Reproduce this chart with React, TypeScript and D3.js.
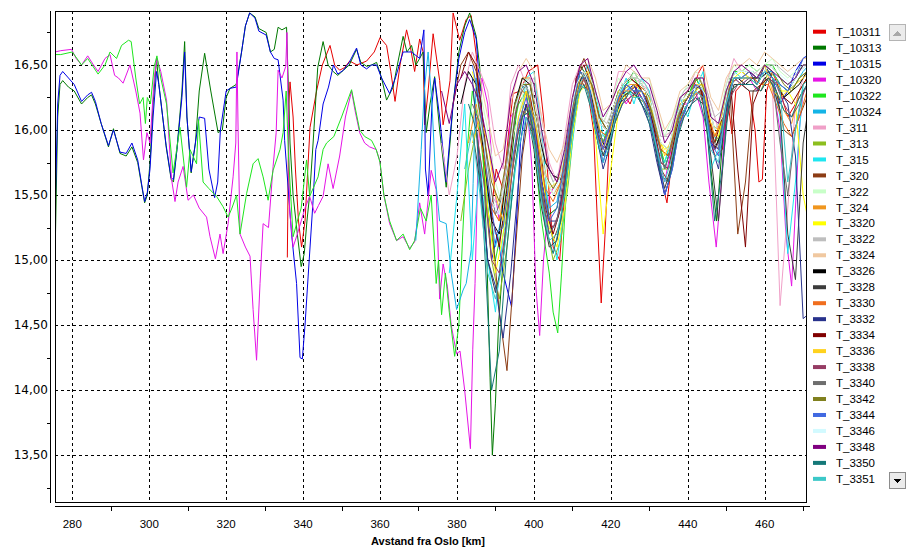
import React from 'react';
import * as d3 from 'd3';

type Pt = [number, number];

const seriesNames = ['T_10311','T_10313','T_10315','T_10320','T_10322','T_10324','T_311','T_313','T_315','T_320','T_322','T_324','T_3320','T_3322','T_3324','T_3326','T_3328','T_3330','T_3332','T_3334','T_3336','T_3338','T_3340','T_3342','T_3344','T_3346','T_3348','T_3350','T_3351'];
const seriesColors = ['#e60000','#007800','#0000e6','#e614e6','#1ee61e','#14b4e6','#f0a0c8','#8cbe1e','#1ee6f0','#8c3c14','#c8ffc8','#f0961e','#ffff00','#bebebe','#f0c8a0','#000000','#3c3c3c','#f06e1e','#28328c','#800000','#ffd21e','#963c64','#6e6e6e','#80801e','#4169e1','#d2faff','#800080','#147878','#3cc8c8'];

const xTicks = [280, 300, 320, 340, 360, 380, 400, 420, 440, 460];
const xMinorTicks = [290, 310, 330, 350, 370, 390, 410, 430, 450, 470];
const yTicks = [13.5, 14.0, 14.5, 15.0, 15.5, 16.0, 16.5];
const yMinorTicks = [13.25, 13.75, 14.25, 14.75, 15.25, 15.75, 16.25, 16.75];

const T_10311: Pt[] = [[335.9,15.02],[336.0,15.3],[336.3,16.2],[336.6,16.37],[337.4,16.1],[338,15.7],[338.8,15.3],[339.6,15.1],[340.5,15.3],[341.8,16.02],[343.5,16.3],[345,16.5],[347,16.65],[348.2,16.5],[349.5,16.46],[350.8,16.48],[352.1,16.53],[354,16.5],[356.5,16.53],[358.5,16.6],[360,16.71],[361.7,16.65],[362.8,16.45],[363.9,16.22],[365.2,16.5],[366.9,16.77],[367.7,16.67],[369,16.45],[370.3,16.7],[371.2,16.6],[371.6,16.04],[372.5,16.3],[373.8,16.74],[375.5,16.38],[376.4,16.04],[377.3,16.2],[378.2,16.38],[379,16.9],[380.7,16.69],[382.4,16.85],[383.7,16.88],[385,16.58],[386,16.1],[387.5,15.6],[389,15.4],[390.2,15.7],[392,15.54],[393.5,16.0],[394.6,16.28],[396.5,16.3],[398.5,16.45],[401,16.5],[402.5,16.1],[404,15.5],[405,15.1],[406.7,15.0],[408,15.5],[409.5,16.1],[411,16.3],[412.7,16.36],[414,16.3],[415.5,16.0],[416.5,15.3],[417.5,14.67],[418.5,15.2],[419.7,16.0],[421,16.15],[423,16.3],[425,16.2],[427,16.35],[429,16.3],[431,16.0],[432.5,15.7],[434.6,15.44],[436,15.8],[437.5,16.1],[439,16.2],[441,16.3],[443,16.45],[444,16.5],[445.5,16.0],[447,15.8],[449,15.85],[450.5,16.2],[451.5,15.97],[452.5,16.3],[454,16.35],[456,16.3],[457.5,16.0],[458.5,15.6],[459.4,15.62],[460.5,16.3],[462,16.45],[464,16.3],[466,16.1],[468,16.2],[470,16.3],[471.5,16.35]];

const T_10313: Pt[] = [[275.5,15.0],[276.2,16.1],[276.8,16.35],[277.5,16.38],[279,16.33],[280.5,16.3],[282.4,16.2],[284,16.25],[285,16.27],[286,16.2],[287.5,16.05],[289.4,15.87],[290.7,16.01],[292.4,15.82],[294,15.8],[295.5,15.87],[297,15.75],[298.1,15.56],[298.8,15.44],[299.5,15.5],[300.2,15.75],[301,16.2],[301.9,16.55],[302.5,16.35],[303.5,16.1],[304.4,15.87],[305.7,15.62],[306.3,15.6],[307.2,15.85],[308.5,16.3],[309.2,16.68],[309.8,16.1],[310.9,15.67],[312,15.9],[313,16.3],[314.4,16.59],[316,16.3],[317.9,15.98],[319,16.0],[320,16.25],[321,16.32],[322.6,16.35],[324,16.6],[325,16.8],[326.1,16.9],[327.5,16.87],[328.5,16.78],[330.4,16.75],[331.5,16.6],[332.5,16.62],[333.5,16.79],[334.5,16.77],[335.7,16.79],[336.1,16.4],[336.6,15.9],[337.4,15.5],[338.5,15.2],[339.5,14.95],[340.3,15.05],[341,15.3],[341.7,15.5],[342.6,15.9],[343.8,16.48],[345.2,16.68],[346.5,16.5],[347.8,16.45],[349,16.42],[350.5,16.46],[352,16.5],[353.9,16.62],[355,16.52],[356.5,16.49],[357.8,16.5],[359.1,16.52],[360.4,16.4],[361.7,16.23],[363.4,16.33],[364.5,16.5],[366,16.72],[367,16.6],[368.2,16.65],[369.3,16.5],[370.3,16.55],[371.2,16.6],[372,15.98],[373,16.2],[374.2,16.41],[375.5,16.0],[377.2,15.56],[378.2,15.9],[379,16.2],[380.5,16.6],[382,16.8],[383.3,16.9],[385,16.72],[385.9,16.49],[386.8,15.9],[387.8,15.0],[388.6,14.1],[389.2,13.5],[390,13.9],[390.8,14.5],[392,15.0],[393.5,15.6],[395,16.0],[396,16.3],[398,16.35],[400,16.1],[402,15.6],[404,15.35],[406,15.4],[408,15.75],[410,16.2],[412,16.5],[414,16.4],[416,16.1],[418,15.9],[420,16.1],[422,16.3],[424,16.35],[426,16.45],[428,16.35],[430,16.25],[432,16.0],[434,15.7],[436,15.9],[438,16.2],[440,16.25],[442,16.4],[444,16.3],[446,15.7],[447.5,15.3],[449,15.9],[450,16.25],[452,16.45],[454,16.45],[456,16.4],[458,16.4],[460,16.5],[462,16.45],[464,16.35],[466,16.3],[468,16.4],[470,16.5],[471.5,16.5]];

const T_10315: Pt[] = [[275.5,15.33],[276.2,16.2],[276.8,16.42],[277.5,16.45],[279,16.4],[280.5,16.35],[282.4,16.22],[284,16.27],[285,16.29],[286,16.22],[287.5,16.05],[289.4,15.88],[290.7,16.0],[292.4,15.83],[294,15.82],[295.5,15.9],[297,15.77],[298.1,15.57],[298.8,15.45],[299.5,15.52],[300.2,15.7],[301,16.1],[301.9,16.45],[302.5,16.35],[303.5,16.1],[304.4,15.88],[305.7,15.63],[306.3,15.62],[307.2,15.85],[308.5,16.25],[309.2,16.6],[309.8,16.1],[310.9,15.68],[312,15.9],[313,16.1],[314.4,16.09],[315.5,15.7],[317,15.48],[317.8,15.6],[318.5,16.0],[320,16.3],[321,16.32],[322.6,16.33],[324,16.6],[325,16.8],[326.1,16.9],[327.5,16.86],[328.5,16.76],[330.4,16.73],[331.5,16.6],[332.5,16.55],[333.5,16.54],[334.8,16.23],[335.2,15.92],[336,15.6],[337,15.2],[338.3,14.82],[339.2,14.25],[339.8,14.24],[340.5,14.5],[341.3,14.87],[342.6,15.46],[343.3,15.85],[343.9,15.92],[345.2,16.2],[346.6,16.33],[347.9,16.5],[349,16.43],[350.5,16.46],[352,16.52],[353.9,16.63],[355,16.5],[356.5,16.47],[357.8,16.5],[359.1,16.5],[360.4,16.4],[362.5,16.28],[364,16.4],[366,16.6],[367,16.6],[368.2,16.6],[370.3,16.55],[371.4,16.77],[371.8,15.7],[372.5,15.5],[373.5,16.2],[374.2,16.4],[375.5,16.1],[377.2,15.6],[378.2,15.95],[379,16.2],[380.5,16.55],[382,16.75],[383.3,16.85],[385,16.7],[386,16.3],[387.5,15.6],[389,15.0],[390.5,15.2],[392,14.9],[394.2,14.64],[395.5,15.3],[396.5,15.9],[398,16.2],[400,16.0],[402,15.5],[404,15.2],[406,15.3],[408,15.6],[410,16.1],[412,16.45],[414,16.35],[416,16.0],[418,15.75],[420,16.0],[422,16.25],[424,16.3],[426,16.35],[428,16.25],[430,16.15],[432,15.8],[434,15.5],[435,15.6],[436,15.75],[438,16.1],[440,16.2],[442,16.35],[444,16.3],[446,15.9],[448,15.85],[450,16.25],[452,16.4],[454,16.4],[456,16.45],[458,16.4],[460,16.45],[462,16.4],[464,16.2],[466,16.3],[468,16.45],[470,16.55],[471.5,16.58]];

const T_10320: Pt[] = [[275.5,16.6],[277,16.61],[279.8,16.62],[281,16.55],[282.4,16.5],[284,16.57],[285.5,16.5],[286.7,16.45],[288.5,16.55],[289.8,16.58],[291,16.42],[292,16.4],[293.2,16.36],[295,16.5],[296.5,16.3],[297.6,16.13],[298.5,15.77],[299.4,15.98],[300.2,15.9],[301.3,16.4],[302,16.55],[303,16.45],[304.5,16.23],[305.8,15.62],[306.7,15.45],[307.5,15.6],[308.8,15.72],[310.1,15.46],[311.5,15.5],[313,15.4],[314.9,15.33],[315.8,15.18],[317.2,15.01],[318.4,15.2],[319.2,15.05],[320.5,15.28],[321.8,15.64],[322.5,15.9],[322.8,16.6],[323.1,16.0],[323.6,15.2],[325,15.1],[326.2,15.03],[327,14.62],[327.9,14.23],[328.8,14.82],[329.6,15.28],[331,15.25],[332.2,15.72],[333,15.98],[333.5,16.46],[334.5,16.4],[335.5,16.49],[335.8,16.75],[336.2,16.0],[336.5,15.38],[337.4,15.1],[338.5,15.2],[339.5,15.3],[340.5,15.4],[341.7,15.49],[343,15.36],[344,15.42],[345.2,15.49],[346.5,15.74],[347.8,15.55],[349.5,15.8],[351,16.1],[352.6,16.3],[353.5,16.15],[354.7,15.98],[356,15.9],[357.3,15.87],[359,15.85],[359.9,15.77],[361,15.5],[362.5,15.28],[364.3,15.15],[366,15.18],[367.7,15.09],[369,15.14],[370.3,15.44],[371.6,15.2],[373.3,15.69],[374.6,15.54],[375.5,14.7],[376.4,14.97],[377.5,14.8],[378.5,14.5],[379.9,14.28],[380.8,14.3],[382,14.0],[383.5,13.55],[384.1,14.31],[384.7,14.82],[385.5,15.8],[386.5,16.4],[388,16.2],[389.5,15.6],[391,15.3],[392.5,15.6],[394,16.1],[396,16.2],[398,16.3],[399.5,15.7],[400.5,14.8],[401.5,14.42],[402.5,15.0],[404,15.5],[406,15.6],[408,15.8],[410,16.2],[412,16.4],[414,16.35],[416,16.0],[418,15.85],[420,16.1],[422,16.3],[424,16.2],[426,16.3],[428,16.25],[430,16.1],[432,15.85],[434,15.6],[436,15.9],[438,16.2],[440,16.2],[442,16.3],[444,16.1],[445.5,15.6],[447.4,15.1],[448.5,15.5],[450,16.2],[452,16.4],[454,16.35],[456,16.4],[458,16.3],[460,16.4],[462,16.35],[464,16.0],[465.5,15.2],[467,14.8],[468,15.4],[469,16.0],[470,16.3],[471.5,16.35]];

const T_10322: Pt[] = [[275.5,16.58],[277,16.58],[280,16.6],[282.4,16.5],[284,16.55],[286.7,16.43],[288.5,16.5],[289.8,16.6],[291.5,16.55],[292.8,16.65],[294.6,16.69],[295.3,16.68],[296.5,16.4],[297.5,16.2],[298.4,16.25],[299,16.05],[299.5,16.25],[300.3,16.2],[301.3,16.49],[302,16.57],[303,16.4],[304.5,16.2],[306.2,15.67],[308,16.02],[309.7,15.56],[310.6,15.85],[312.3,15.74],[312.8,16.08],[314,15.6],[315.5,15.55],[317.5,15.49],[319.2,15.41],[320.5,15.33],[321.5,15.4],[322.7,15.5],[323.6,15.2],[325.3,15.51],[327,15.74],[328.3,15.78],[329.6,15.64],[330.9,15.46],[332.2,15.69],[334,15.85],[334.8,15.98],[335.6,16.3],[336.2,15.8],[337.4,15.18],[338.5,15.3],[339.5,15.4],[340.9,15.77],[341.7,15.49],[343.9,15.64],[345.2,15.85],[346.1,15.9],[348,15.95],[350,16.1],[352.6,16.31],[354.7,16.0],[356,15.95],[357.8,15.92],[359,15.85],[360,15.75],[361,15.5],[362.5,15.3],[364.3,15.15],[366,15.2],[367.7,15.08],[369,15.15],[370.5,15.4],[372,15.3],[373.3,15.5],[374.6,14.82],[375.2,15.0],[376,14.58],[377,14.9],[378,14.6],[379.4,14.26],[380.5,14.5],[381.5,15.2],[382.5,15.8],[384,16.3],[386,16.0],[388,15.4],[390,15.0],[392,15.3],[394,15.9],[396,16.2],[398,16.3],[400,15.9],[402,15.3],[404,14.9],[405,14.6],[406.2,14.44],[407.2,14.9],[408.5,15.6],[410,16.1],[412,16.45],[414,16.4],[416,16.1],[418,15.9],[420,16.1],[422,16.3],[424,16.35],[426,16.4],[428,16.3],[430,16.2],[432,15.95],[434,15.75],[436,15.95],[438,16.2],[440,16.25],[442,16.4],[444,16.3],[446,16.0],[448,15.9],[450,16.3],[452,16.45],[454,16.45],[456,16.5],[458,16.45],[460,16.5],[462,16.5],[464,16.4],[466,16.35],[468,16.4],[470,16.5],[471.5,16.5]];

const T_10324: Pt[] = [[369.3,15.15],[370,15.5],[370.7,15.85],[371.5,16.3],[372.5,16.6],[373.5,16.2],[374.5,15.6],[375.5,15.3],[377.2,15.28],[378.5,14.9],[379.9,14.62],[381.6,14.77],[382.4,14.82],[383.7,15.08],[384.2,15.59],[385,16.4],[386,16.2],[388,15.5],[390,15.1],[392,15.4],[394,16.0],[396,16.3],[398,16.35],[400,16.1],[402,15.7],[404,15.4],[406,15.45],[408,15.8],[410,16.2],[412,16.45],[414,16.4],[416,16.1],[418,15.9],[420,16.05],[422,16.25],[424,16.35],[426,16.3],[428,16.3],[430,16.2],[432,15.95],[434,15.7],[436,15.9],[438,16.15],[440,16.25],[442,16.35],[444,16.3],[446,16.0],[448,15.9],[450,16.25],[452,16.4],[454,16.4],[456,16.4],[458,16.35],[460,16.45],[462,16.45],[464,16.35],[466,16.3],[468,16.35],[470,16.45],[471.5,16.5]];

// Later series are read on 2 km grids (even and odd km); each value list ends at the grid's last km.
const evenKm = [372,374,376,378,380,382,384,386,388,390,392,394,396,398,400,402,404,406,408,410,412,414,416,418,420,422,424,426,428,430,432,434,436,438,440,442,444,446,448,450,452,454,456,458,460,462,464,466,468,470,472];
const oddKm = [373,375,377,379,381,383,385,387,389,391,393,395,397,399,401,403,405,407,409,411,413,415,417,419,421,423,425,427,429,431,433,435,437,439,441,443,445,447,449,451,453,455,457,459,461,463,465,467,469,471,473];

const T_311 = [15.9,15.5,15.8,16.35,16.6,16.45,16.3,15.9,15.7,16.35,16.5,16.35,16.4,16.1,15.75,15.6,15.95,16.35,16.5,16.5,16.3,16.05,16.2,16.45,16.45,16.4,16.35,16.3,16.1,15.95,16.0,16.25,16.3,16.45,16.4,16.2,16.0,16.35,16.55,16.45,16.4,16.45,16.5,16.35,14.65,15.4,16.2,16.4,16.45];
const T_313 = [15.3,15.7,16.0,15.6,15.0,14.7,15.1,15.7,16.1,16.2,15.75,15.3,15.0,15.15,15.6,16.2,16.4,16.2,15.9,15.85,16.1,16.25,16.3,16.25,16.2,16.0,15.7,15.7,16.0,16.15,16.25,16.3,16.1,15.9,16.0,16.3,16.35,16.35,16.35,16.3,16.45,16.4,16.25,16.3,16.4,16.45,16.45];
const T_315 = [14.9,15.5,16.2,15.0,15.8,15.0,14.6,15.2,15.4,15.9,16.4,16.45,16.0,15.3,15.0,15.4,15.9,16.35,16.5,16.3,15.95,16.05,16.25,16.4,16.2,16.4,16.3,15.85,15.75,15.95,16.25,16.1,16.3,16.45,15.7,15.85,16.3,16.45,16.4,16.45,16.4,16.5,16.4,16.1,15.05,15.6,16.35,16.4];
const T_320 = [16.2,16.5,16.6,16.45,16.0,15.3,14.6,14.15,15.0,15.8,16.2,16.1,15.5,15.15,15.3,15.9,16.4,16.55,16.4,16.05,16.0,16.2,16.35,16.4,16.35,16.3,16.05,15.7,15.6,15.95,16.15,16.25,16.35,16.2,15.85,16.0,16.3,15.2,15.6,16.3,16.35,16.4,16.3,16.0,15.95,16.1,16.25,16.3];
const T_322 = [16.1,16.3,16.0,15.6,15.4,15.9,16.1,16.4,16.35,16.0,15.7,15.5,15.65,16.0,16.35,16.45,16.3,16.05,16.2,16.4,16.3,16.45,16.35,16.4,16.15,15.95,16.1,16.25,16.35,16.45,16.4,16.1,16.05,16.35,16.5,16.45,16.5,16.45,16.5,16.55,16.45,16.4,16.45,16.5,16.5];
const T_324 = [15.9,16.2,15.9,15.4,15.3,15.65,16.15,16.4,16.4,16.0,15.65,15.5,15.6,15.95,16.3,16.4,16.25,16.0,15.95,16.15,16.3,16.35,16.35,16.25,16.1,15.85,15.8,16.0,16.15,16.25,16.3,16.15,15.95,16.05,16.3,16.35,16.4,16.4,16.35,16.4,16.3,16.15,16.05,16.3,16.4,16.45];
const T_3320 = [16.45,16.2,15.4,14.9,15.2,15.7,16.0,16.3,16.2,15.7,15.25,15.1,15.4,15.95,16.3,16.35,15.95,15.2,15.7,16.15,16.3,16.25,16.3,16.2,15.95,15.85,15.9,16.15,16.25,16.3,16.35,16.0,15.95,16.25,16.4,16.45,16.4,16.35,16.5,16.4,16.3,16.3,16.2,15.5,15.2];
const T_3322 = [16.35,16.0,15.5,15.4,15.75,16.15,16.35,16.4,16.1,15.75,15.6,15.7,16.05,16.35,16.45,16.35,16.1,16.05,16.2,16.35,16.4,16.4,16.35,16.2,15.95,15.95,16.15,16.3,16.35,16.4,16.3,16.1,16.15,16.4,16.45,16.45,16.45,16.4,16.5,16.5,16.45,16.4,16.45,16.5,16.5];
const T_3324 = [16.55,16.4,16.1,15.8,15.85,16.2,16.45,16.55,16.45,16.1,15.85,15.75,15.9,16.25,16.5,16.55,16.4,16.15,16.2,16.35,16.5,16.45,16.4,16.4,16.2,16.0,16.1,16.3,16.35,16.45,16.5,16.25,16.15,16.4,16.5,16.5,16.55,16.5,16.6,16.55,16.5,16.45,16.5,16.55,16.55];
const T_3326 = [16.2,16.45,16.35,15.8,15.3,15.2,15.7,16.2,16.4,16.35,16.0,15.75,15.65,15.62,15.95,16.3,16.45,16.25,15.95,15.85,16.1,16.25,16.3,16.35,16.25,16.05,15.85,15.8,16.05,16.2,16.3,16.35,16.1,15.85,16.0,16.35,16.4,16.35,16.4,16.4,16.45,16.35,16.25,16.3,16.35,16.45,16.45];
const T_3328 = [16.0,15.6,15.0,14.75,15.0,15.6,16.0,16.2,15.85,15.4,15.1,15.15,15.5,16.0,16.35,16.3,16.05,15.8,16.0,16.2,16.35,16.3,16.2,16.1,15.8,15.55,15.75,16.1,16.2,16.25,16.2,15.8,15.3,16.05,16.35,16.35,16.3,16.3,16.4,16.35,16.15,15.2,14.85,15.9,16.3];
const T_3330 = [16.1,15.8,15.4,15.3,15.7,16.15,16.3,16.25,15.9,15.55,15.45,15.6,16.0,16.35,16.45,16.3,16.0,15.95,16.15,16.3,16.3,16.35,16.3,16.1,15.85,15.8,16.05,16.2,16.3,16.35,16.15,15.95,16.1,16.35,16.4,16.4,16.4,16.35,16.35,16.2,16.05,15.95,16.1,16.3,16.35];
const T_3332 = [16.4,15.7,15.0,14.8,14.4,14.9,15.6,16.1,16.0,15.6,15.3,15.3,15.6,16.1,16.4,16.4,16.0,15.7,15.9,16.2,16.25,16.35,16.2,16.05,15.75,15.5,15.7,16.05,16.2,16.35,16.3,15.9,15.7,16.15,16.4,16.4,16.45,16.35,16.5,16.4,16.3,16.2,15.8,14.55,14.6];
const T_3334 = [16.4,16.6,16.5,16.0,15.35,15.1,15.55,16.1,16.35,16.3,15.85,15.4,15.2,15.4,15.9,16.4,16.5,16.35,16.1,16.0,16.2,16.35,16.4,16.35,16.25,16.05,15.75,15.7,16.0,16.2,16.3,16.35,16.15,15.9,16.1,16.4,15.7,15.1,16.2,16.35,16.4,16.35,16.25,16.2,16.3,16.4,16.45];
const T_3336 = [15.9,16.1,15.9,15.5,15.3,15.6,16.1,16.3,16.1,15.8,15.55,15.6,15.8,16.15,16.4,16.45,16.2,15.85,16.0,16.3,16.25,16.35,16.3,16.25,16.0,15.8,15.95,16.2,16.25,16.35,16.35,16.05,16.0,16.3,16.4,16.4,16.45,16.4,16.5,16.3,16.25,16.3,16.35,16.4,16.45];
const T_3338 = [16.0,15.6,15.0,14.9,15.3,15.85,16.15,16.1,15.7,15.35,15.25,15.4,15.85,16.25,16.4,16.2,15.9,15.85,16.05,16.2,16.25,16.3,16.2,16.0,15.75,15.7,15.95,16.1,16.2,16.3,16.1,15.85,15.95,16.25,16.35,16.35,16.35,16.3,16.4,16.35,16.2,16.1,16.2,16.35,16.4];
const T_3340 = [16.2,16.05,15.7,15.35,15.5,15.9,16.25,16.35,16.05,15.55,15.2,15.3,15.7,16.15,16.45,16.35,16.1,15.9,16.05,16.25,16.35,16.3,16.3,16.2,15.95,15.7,15.9,16.15,16.25,16.35,16.3,15.95,15.85,16.25,16.4,16.35,16.4,16.35,16.45,16.4,15.9,15.5,16.0,16.3,16.35];
const T_3342 = [16.3,15.95,15.6,15.45,15.8,16.2,16.35,16.35,16.0,15.65,15.55,15.65,16.0,16.35,16.45,16.35,16.1,16.0,16.2,16.35,16.4,16.4,16.3,16.1,15.9,15.85,16.1,16.25,16.35,16.4,16.25,16.0,16.1,16.4,16.45,16.45,16.45,16.4,16.5,16.45,16.35,16.3,16.4,16.45,16.5];
const T_3344 = [16.5,16.2,15.6,15.2,15.25,15.7,16.05,16.25,16.05,15.6,15.3,15.4,15.75,16.2,16.45,16.4,16.05,15.85,16.05,16.25,16.35,16.3,16.3,16.15,15.85,15.5,15.7,16.05,16.2,16.35,16.3,15.9,15.8,16.2,16.4,16.4,16.45,16.4,16.45,16.4,16.35,16.3,16.4,16.55,16.6];
const T_3346 = [16.25,15.9,15.45,15.35,15.7,16.15,16.35,16.3,16.0,15.65,15.5,15.65,16.05,16.35,16.45,16.3,16.05,16.0,16.2,16.35,16.4,16.4,16.3,16.15,15.9,15.85,16.1,16.25,16.3,16.35,16.25,16.0,16.1,16.4,16.45,16.45,16.45,16.4,16.5,16.45,16.4,16.35,16.45,16.5,16.5];
const T_3348 = [16.3,16.05,16.35,16.45,16.35,16.2,15.9,15.6,15.75,16.25,16.45,16.5,16.35,16.0,15.7,15.6,15.85,16.25,16.5,16.55,16.3,16.1,16.2,16.35,16.45,16.5,16.4,16.35,16.15,15.9,16.0,16.25,16.3,16.4,16.4,16.1,16.05,16.3,16.45,16.5,16.45,16.4,16.5,16.45,16.4,16.35,16.4,16.5,16.5];
const T_3350 = [16.2,16.0,15.2,14.0,14.3,15.1,15.7,16.1,16.15,15.7,15.25,15.05,15.3,15.8,16.25,16.35,16.15,15.85,15.8,16.05,16.2,16.3,16.25,16.15,15.95,15.65,15.6,15.9,16.1,16.2,16.25,16.0,15.3,15.7,16.3,16.35,16.35,16.35,16.3,16.4,16.3,16.15,16.1,16.25,16.35,16.4];
const T_3351 = [15.7,16.0,15.5,14.9,14.7,15.0,15.5,15.85,16.1,15.9,15.45,15.15,15.2,15.5,16.0,16.35,16.3,16.0,15.75,15.95,16.2,16.3,16.25,16.25,16.1,15.85,15.6,15.8,16.1,16.2,16.3,16.25,15.85,15.75,16.2,16.4,16.4,16.4,16.35,16.45,16.4,16.3,15.6,16.0,16.35,16.4];

const mainSeries: Pt[][] = [T_10311,T_10313,T_10315,T_10320,T_10322,T_10324];
const gridSeries: [number[], number[]][] = [
  [T_311, evenKm],[T_313, oddKm],[T_315, evenKm],[T_320, oddKm],[T_322, evenKm],[T_324, oddKm],
  [T_3320, evenKm],[T_3322, oddKm],[T_3324, evenKm],[T_3326, oddKm],[T_3328, evenKm],[T_3330, oddKm],
  [T_3332, evenKm],[T_3334, oddKm],[T_3336, evenKm],[T_3338, oddKm],[T_3340, evenKm],[T_3342, oddKm],
  [T_3344, evenKm],[T_3346, oddKm],[T_3348, evenKm],[T_3350, oddKm],[T_3351, evenKm]
];

function alignToGrid(vals: number[], grid: number[]): Pt[] {
  const off = grid.length - vals.length;
  return vals.map((v, i) => [grid[off + i], v] as Pt);
}

const allSeries: Pt[][] = [...mainSeries, ...gridSeries.map(([v, g]) => alignToGrid(v, g))];

const W = 918, H = 559;
const L = 55, R = 807, T = 11, B = 502;

export default function App() {
  const x = d3.scaleLinear().domain([275.5, 471]).range([L, R]);
  const y = d3.scaleLinear().domain([13.14, 16.915]).range([B, T]);
  const line = d3.line<Pt>().x(d => x(d[0])).y(d => y(d[1]));
  const fmtY = (v: number) => d3.format('.2f')(v).replace('.', ',');
  const legendY0 = 31.7, legendStep = 15.97;
  const px = (v: number) => Math.round(v) + 0.5;

  return (
    <svg width={W} height={H} style={{ position: 'absolute', left: 0, top: 0, background: '#fff' }}>
      <rect x={0} y={0} width={W} height={H} fill="#fff" />
      <defs>
        <clipPath id="plotclip">
          <rect x={L} y={T} width={R - L} height={B - T} />
        </clipPath>
      </defs>
      <g stroke="#000" strokeWidth={1} strokeDasharray="3,3" shapeRendering="crispEdges">
        {xTicks.map(t => (
          <line key={'gx' + t} x1={px(x(t))} x2={px(x(t))} y1={T} y2={B} />
        ))}
        {yTicks.map(t => (
          <line key={'gy' + t} x1={L} x2={R} y1={px(y(t))} y2={px(y(t))} />
        ))}
      </g>
      <g clipPath="url(#plotclip)" fill="none" strokeWidth={1}>
        {allSeries.map((s, i) => (
          <path key={seriesNames[i]} d={line(s) || ''} stroke={seriesColors[i]} strokeLinejoin="round" />
        ))}
      </g>
      <rect x={L + 0.5} y={T + 0.5} width={R - L - 1} height={B - T} fill="none" stroke="#000" strokeWidth={1} shapeRendering="crispEdges" />
      <g shapeRendering="crispEdges" stroke="#000">
        <line x1={50.5} x2={50.5} y1={T} y2={B + 1} />
        {yMinorTicks.map(t => (
          <line key={'ym' + t} x1={47} x2={51} y1={px(y(t))} y2={px(y(t))} />
        ))}
      </g>
      <g fontFamily="DejaVu Sans, Verdana, sans-serif" fontSize={12} fill="#000" textAnchor="end">
        {yTicks.map(t => (
          <text key={'yl' + t} x={48} y={y(t)} dy="0.35em">{fmtY(t)}</text>
        ))}
      </g>
      <g shapeRendering="crispEdges" stroke="#000">
        <line x1={L} x2={810} y1={506.5} y2={506.5} />
        {xMinorTicks.map(t => (
          <line key={'xm' + t} x1={px(x(t))} x2={px(x(t))} y1={506} y2={511} />
        ))}
      </g>
      <g fontFamily="Liberation Sans, Arial, sans-serif" fontSize={11.5} fill="#000" textAnchor="middle">
        {xTicks.map(t => (
          <text key={'xl' + t} x={x(t)} y={528}>{t}</text>
        ))}
      </g>
      <text x={428} y={545} textAnchor="middle" fontFamily="Liberation Sans, Arial, sans-serif" fontSize={11} fontWeight="bold" fill="#000">Avstand fra Oslo [km]</text>
      <g>
        {seriesNames.map((n, i) => {
          const cy = legendY0 + i * legendStep;
          return (
            <g key={'lg' + n}>
              <rect x={813} y={cy - 2} width={13} height={4} fill={seriesColors[i]} />
              <text x={836} y={cy} dy="0.36em" fontFamily="Liberation Sans, Arial, sans-serif" fontSize={11.5} fill="#000">{n}</text>
            </g>
          );
        })}
      </g>
      <g shapeRendering="crispEdges">
        <rect x={889.5} y={24.5} width={16} height={16} fill="#ebebeb" stroke="#b4b4b4" />
        <path d="M893.5,35.5 L897.5,30.5 L901.5,35.5 Z" fill="#a8a8a8" />
        <rect x={889.5} y={472.5} width={16} height={16} fill="#ebebeb" stroke="#8c8c8c" />
        <path d="M893,478.5 L902,478.5 L897.5,483.5 Z" fill="#000" />
      </g>
    </svg>
  );
}
